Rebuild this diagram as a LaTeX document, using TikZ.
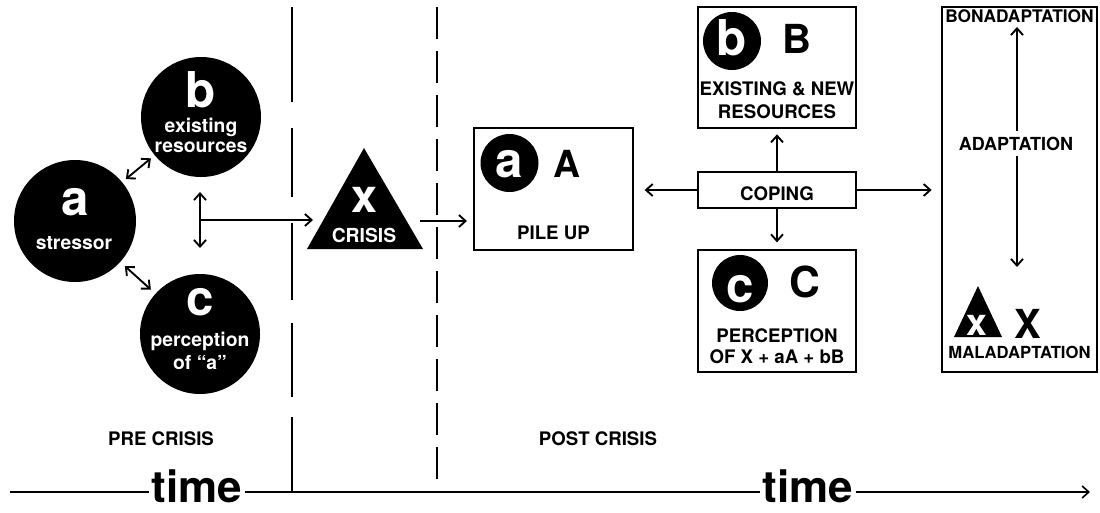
\documentclass[tikz,border=0pt]{standalone}
\usepackage{fontspec}
\setmainfont{TeX Gyre Heros}
\usetikzlibrary{arrows.meta}
\newcommand{\fsz}[1]{\fontsize{#1}{#1}\selectfont\bfseries}
\begin{document}
\begin{tikzpicture}[x=0.75pt,y=-0.75pt,line width=1.4pt,
  tip/.style={-{Straight Barb[length=5pt,width=9pt]}},
  dtip/.style={{Straight Barb[length=5pt,width=9pt]}-{Straight Barb[length=5pt,width=9pt]}},
  blob/.style={circle,fill=black,inner sep=0pt},
  wt/.style={text=white,anchor=base,inner sep=0pt},
  bt/.style={text=black,anchor=base,inner sep=0pt},
  box/.style={draw,rectangle,inner sep=0pt,line width=1.5pt},
  lbl/.style={anchor=base,inner sep=0pt,font=\fsz{14}},
  vline/.style={line width=1.2pt}]
\useasboundingbox (0,0) rectangle (1100,512);

% ---- pre-crisis circles
\node[blob,minimum size=91.5pt] (ca) at (75,221) {};
\node[wt,font=\fsz{37}] (ca1) at (75,215) {a};
\node[wt,font=\fsz{14.5}] (ca2) at (74,249) {stressor};

\node[blob,minimum size=90pt] (cb) at (201,117) {};
\node[wt,font=\fsz{37}] (cb1) at (201,107) {b};
\node[wt,font=\fsz{14.5}] (cb2) at (201,132) {existing};
\node[wt,font=\fsz{14.5}] (cb3) at (201,152) {resources};

\node[blob,minimum size=90pt] (cc) at (200,334) {};
\node[wt,font=\fsz{37}] (cc1) at (200,315) {c};
\node[wt,font=\fsz{14.5}] (cc2) at (200,346) {perception};
\node[wt,font=\fsz{14.5}] (cc3) at (200,369) {of \char"201Ca\char"201D};

\draw[dtip,shorten <=3pt,shorten >=3pt] (ca) -- (cb);
\draw[dtip,shorten <=4pt,shorten >=4pt] (ca) -- (cc);

\coordinate (vt) at (200,192);
\coordinate (vb) at (200,248);
\coordinate (vm) at (200,220);
\coordinate (tl) at (313,220);
\draw[dtip] (vt) -- (vb);
\draw[tip] (vm) -- (tl);

% ---- separators
\draw[vline] (292,7) -- (292,102);
\draw[vline] (292,128) -- (292,197);
\draw[vline] (292,223) -- (292,300);
\draw[vline] (292,323) -- (292,397);
\draw[vline] (292,417) -- (292,492);
\draw[vline,dash pattern=on 24pt off 9pt] (437,7) -- (437,492);

% ---- crisis triangle
\fill (364,148) -- (307,249) -- (423,249) -- cycle;
\node[wt,font=\fsz{35}] (tx) at (364,212) {x};
\node[wt,font=\fsz{14.5}] (tc) at (364,242) {CRISIS};
\coordinate (tr) at (420,221);

% ---- pile up box
\node[box,minimum width=119.25pt,minimum height=91.5pt] (pile) at (553.5,189) {};
\node[blob,minimum size=43.5pt] (pa) at (509.5,163) {};
\node[wt,font=\fsz{37}] (pa1) at (509.5,177) {a};
\node[bt,font=\fsz{28}] (pA) at (567,177) {A};
\node[lbl] (pl) at (553.5,239) {PILE UP};
\draw[tip,shorten >=4.5pt] (tr) -- (pile.west |- tr);

% ---- B box
\node[box,minimum width=118.5pt,minimum height=90.75pt] (bbox) at (777,67.5) {};
\node[blob,minimum size=43.5pt] (bb) at (732,41) {};
\node[wt,font=\fsz{37}] (bb1) at (732,55) {b};
\node[bt,font=\fsz{30}] (bB) at (797,53) {B};
\node[lbl] (bl1) at (777,95) {EXISTING \& NEW};
\node[lbl] (bl2) at (777,118) {RESOURCES};

% ---- coping
\node[box,minimum width=118.5pt,minimum height=27pt] (cop) at (777,190) {};
\node[lbl] (copt) at (777,200) {COPING};

% ---- C box
\node[box,minimum width=118.5pt,minimum height=91.5pt] (cbox) at (777,311) {};
\node[blob,minimum size=42pt] (cbc) at (740,283) {};
\node[wt,font=\fsz{37}] (cbc1) at (740,302) {c};
\node[bt,font=\fsz{32}] (cC) at (805,297) {C};
\node[lbl] (cl1) at (777,342) {PERCEPTION};
\node[lbl] (cl2) at (777,363) {OF X + aA + bB};

% ---- adaptation box
\node[box,minimum width=116.25pt,minimum height=273.75pt] (abox) at (1019.5,189.5) {};
\node[bt,font=\fsz{13}] (bon) at (1019.5,22) {BONADAPTATION};
\coordinate (at) at (1017,27);
\coordinate (ab) at (1017,267);
\draw[dtip] (at) -- (ab);
\node[anchor=base,fill=white,inner xsep=2pt,inner ysep=4pt,font=\fsz{13.5}] (adt) at (1016,150) {ADAPTATION};
\fill (978,286) -- (954,337) -- (1002,337) -- cycle;
\node[wt,font=\fsz{28}] (sx) at (977,335) {x};
\node[bt,font=\fsz{30}] (bX) at (1028,338) {X};
\node[bt,font=\fsz{12.5}] (mal) at (1019.5,358) {MALADAPTATION};

% ---- coping arrows
\draw[tip,shorten >=4pt] (cop.north) -- (bbox.south);
\draw[tip,shorten >=5pt] (cop.south) -- (cbox.north);
\draw[tip,shorten >=8pt] (cop.west) -- (pile.east |- cop.west);
\draw[tip,shorten >=7pt] (cop.east) -- (abox.west |- cop.east);

% ---- labels
\node[lbl] (pre) at (161,445) {PRE CRISIS};
\node[lbl] (post) at (598,445) {POST CRISIS};

% ---- time axis
\coordinate (t0) at (10,492);
\coordinate (t1) at (1090,492);
\draw[tip,line width=1.2pt] (t0) -- (t1);
\node[anchor=base,fill=white,inner xsep=2pt,inner ysep=0pt,font=\fsz{33}] (time1) at (197,502) {time};
\node[anchor=base,fill=white,inner xsep=2pt,inner ysep=0pt,font=\fsz{33}] (time2) at (808,502) {time};
\end{tikzpicture}
\end{document}
